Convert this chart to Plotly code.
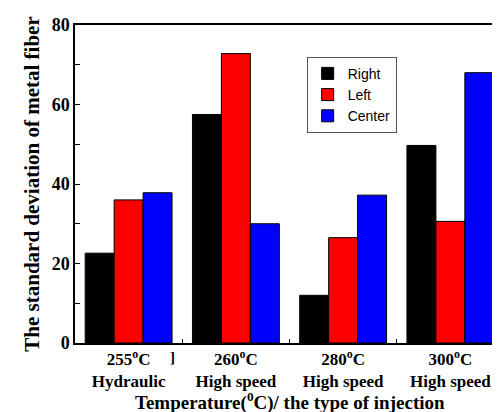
import plotly.graph_objects as go

categories = ["255<sup>o</sup>C<br>Hydraulic", "260<sup>o</sup>C<br>High speed",
              "280<sup>o</sup>C<br>High speed", "300<sup>o</sup>C<br>High speed"]
cat_keys = ["255", "260", "280", "300"]
right = [22.6, 57.5, 12.0, 49.7]
left = [36.0, 72.8, 26.5, 30.6]
center = [37.8, 30.0, 37.2, 68.0]
series = [("Right", right, "#000000"), ("Left", left, "#ff0000"), ("Center", center, "#0000ff")]

fig = go.Figure()
for name, vals, col in series:
    fig.add_trace(go.Bar(x=cat_keys, y=vals, name=name,
                         marker=dict(color=col, line=dict(color="#000000", width=1))))

serif = "Liberation Serif, Times New Roman, serif"
fig.update_layout(
    width=500, height=412,
    margin=dict(l=67, r=2, t=17, b=77),
    plot_bgcolor="white", paper_bgcolor="white",
    barmode="group", bargap=0.19, bargroupgap=0,
    legend=dict(x=0.54, y=0.9, xanchor="left", yanchor="top",
                bordercolor="#555555", borderwidth=1, bgcolor="white",
                font=dict(family="Liberation Sans, Arial, sans-serif", size=14, color="black"),
                tracegroupgap=0, itemwidth=30),
    xaxis=dict(type="category", tickmode="array", tickvals=cat_keys, ticktext=categories,
               tickson="boundaries", ticks="inside", ticklen=4, tickcolor="black",
               showline=True, linecolor="black", linewidth=1.5, mirror=True,
               tickfont=dict(family=serif, size=17, color="black", weight="bold"),
               range=[-0.5, 3.5]),
    yaxis=dict(range=[0, 80], tickvals=[0, 20, 40, 60, 80], ticks="inside", ticklen=5,
               tickcolor="black", showline=True, linecolor="black", linewidth=1.5,
               mirror=True, showgrid=False, zeroline=False,
               minor=dict(tickvals=[10, 30, 50, 70], ticks="inside", ticklen=5, tickcolor="black"),
               tickfont=dict(family=serif, size=18, color="black", weight="bold"),
               title=dict(text="The standard deviation of metal fiber",
                          font=dict(family=serif, size=21, color="black", weight="bold"),
                          standoff=6)),
)
fig.add_annotation(x=0.5, y=-0.231, xref="paper", yref="paper",
                   text="Temperature(<sup>0</sup>C)/ the type of injection", showarrow=False,
                   xanchor="center", yanchor="bottom",
                   font=dict(family=serif, size=19, color="black", weight="bold"))
fig.add_annotation(x=0.41, y=-0.044, xref="x", yref="paper", text="]", showarrow=False,
                   xanchor="center", yanchor="middle",
                   font=dict(family=serif, size=15, color="black", weight="bold"))
fig.add_annotation(x=0.985, y=-0.05, xref="paper", yref="paper", text="|", showarrow=False,
                   xanchor="center", yanchor="middle",
                   font=dict(family="Liberation Sans, Arial, sans-serif", size=14, color="#aaaaaa"))
fig.write_html("out.html")
